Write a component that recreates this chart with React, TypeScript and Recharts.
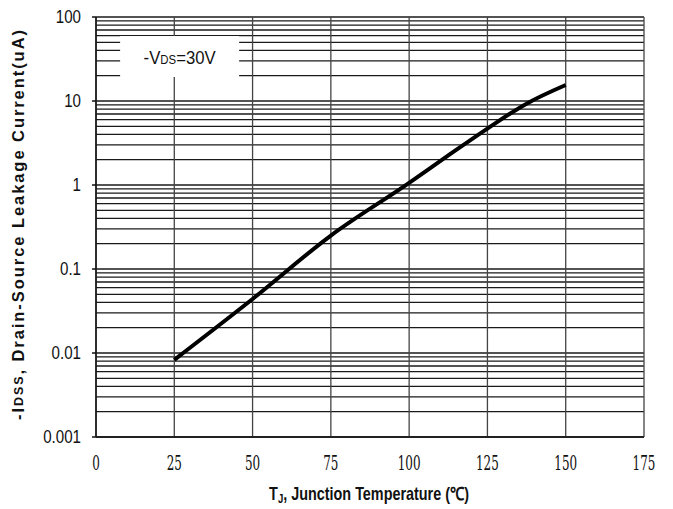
import React from 'react';
import { LineChart, Line, XAxis, YAxis, CartesianGrid, ReferenceArea } from 'recharts';

// Curve: junction temperature (°C) vs -IDSS (uA)
const temps = [25, 50, 75, 100, 112.5, 125, 137.5, 150];
const leakage = [0.0083, 0.044, 0.25, 1.06, 2.25, 4.7, 9.3, 15.5];

const xTicks = [0, 25, 50, 75, 100, 125, 150, 175];
const yTicks = [0.001, 0.01, 0.1, 1, 10, 100];
const yTickLabels = ['0.001', '0.01', '0.1', '1', '10', '100'];
const minorMultipliers = [1, 2, 3, 4, 5, 6, 7, 8, 9];

// annotation box (data coordinates)
const boxX = [7.7, 45.7];
const boxY = [19.3, 59.4];

const data = temps.map((t, i) => ({ t, v: leakage[i] }));

const hValues: number[] = [];
yTicks.slice(0, -1).forEach((d) => minorMultipliers.forEach((m) => hValues.push(d * m)));
hValues.push(yTicks[yTicks.length - 1]);

const XTick = (props: any) => {
  const { x, y, payload } = props;
  const s = String(payload.value);
  return (
    <text x={x} y={y + 25} textAnchor="middle" fontFamily="DejaVu Serif" fontSize={20} fill="#111"
      textLength={s.length * 7.6} lengthAdjust="spacingAndGlyphs">{s}</text>
  );
};

const YTick = (props: any) => {
  const { x, y, payload } = props;
  const idx = yTicks.indexOf(payload.value);
  const s = idx >= 0 ? yTickLabels[idx] : String(payload.value);
  return (
    <g transform={`translate(${x}, ${y + 6}) scale(0.84, 1)`}>
      <text x={0} y={0} textAnchor="end" fontFamily="'Liberation Sans', Arial" fontSize={18} fill="#111">{s}</text>
    </g>
  );
};

const YTitle = (props: any) => {
  const vb = props.viewBox || {};
  const cx = 20;
  const cy = (vb.y ?? 17) + (vb.height ?? 420) / 2 - 2;
  return (
    <text x={cx} y={cy} transform={`rotate(-90, ${cx}, ${cy})`} textAnchor="middle" dominantBaseline="middle"
      fontFamily="'Liberation Sans', Arial" fontWeight="bold" fontSize={16.5} fill="#111"
      textLength={390} lengthAdjust="spacing">
      -I<tspan fontSize={12.5}>DSS</tspan>, Drain-Source Leakage Current(uA)
    </text>
  );
};

const XTitle = (props: any) => {
  const vb = props.viewBox || {};
  const cx = 369;
  const cy = (vb.y ?? 437) + 63;
  return (
    <g transform={`translate(${cx}, ${cy}) scale(0.8, 1)`}>
      <text x={0} y={0} textAnchor="middle" fontFamily="'Liberation Sans', Arial"
        fontWeight="bold" fontSize={18} fill="#111">
        T<tspan fontSize={12} baselineShift="-3">J</tspan>, Junction Temperature (℃)
      </text>
    </g>
  );
};

const BoxLabel = (props: any) => {
  const vb = props.viewBox || {};
  const cx = (vb.x ?? 0) + (vb.width ?? 0) / 2;
  const cy = (vb.y ?? 0) + (vb.height ?? 0) / 2 + 7;
  return (
    <g transform={`translate(${cx}, ${cy}) scale(0.88, 1)`}>
      <text x={0} y={0} textAnchor="middle" fontFamily="'Liberation Sans', Arial" fontSize={19} fill="#111">
        -V<tspan fontSize={13}>DS</tspan>=30V
      </text>
    </g>
  );
};

export default function App() {
  return (
    <div style={{ position: 'absolute', left: 0, top: 0, width: 673, height: 509, background: '#fff' }}>
      <LineChart width={673} height={509} data={data} margin={{ top: 17, right: 29, bottom: 0, left: 0 }}>
        <CartesianGrid horizontal={true} vertical={false} horizontalValues={hValues} stroke="#1a1a1a" strokeWidth={1.3} />
        <CartesianGrid horizontal={false} vertical={true} verticalValues={xTicks} stroke="#444" strokeWidth={1.3} />
        <XAxis dataKey="t" type="number" domain={[0, 175]} ticks={xTicks} tickLine={false}
          axisLine={{ stroke: '#111', strokeWidth: 1.5 }} height={72} tick={<XTick />} interval={0}
          label={<XTitle />} />
        <YAxis dataKey="v" type="number" scale="log" domain={[0.001, 100]} ticks={yTicks} allowDataOverflow
          width={96} tickSize={4} tickMargin={11} tickLine={{ stroke: '#111', strokeWidth: 1.5 }}
          axisLine={{ stroke: '#111', strokeWidth: 1.5 }} tick={<YTick />} interval={0}
          label={<YTitle />} />
        <ReferenceArea x1={boxX[0]} x2={boxX[1]} y1={boxY[0]} y2={boxY[1]} fill="#fff" fillOpacity={1}
          stroke="none" ifOverflow="visible" label={<BoxLabel />} />
        <Line dataKey="v" type="monotone" stroke="#000" strokeWidth={4} dot={false} isAnimationActive={false} />
      </LineChart>
    </div>
  );
}
